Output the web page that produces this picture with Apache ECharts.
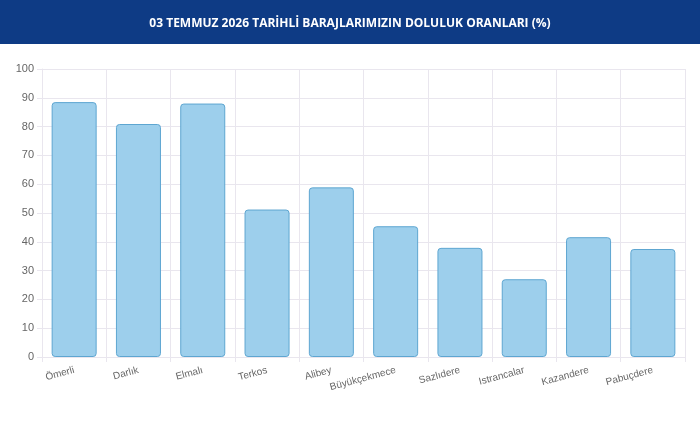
<!DOCTYPE html>
<html>
<head>
<meta charset="utf-8">
<script src="https://cdn.jsdelivr.net/npm/echarts@6/dist/echarts.min.js"></script>
<style>
  html, body { margin: 0; padding: 0; background: #fff; }
  #chart { width: 700px; height: 429px; }
</style>
</head>
<body>
<div id="chart"></div>
<script>
'use strict';
var titleText = '03 TEMMUZ 2026 TARİHLİ BARAJLARIMIZIN DOLULUK ORANLARI (%)';
var damNames = ['Ömerli', 'Darlık', 'Elmalı', 'Terkos', 'Alibey', 'Büyükçekmece', 'Sazlıdere', 'Istrancalar', 'Kazandere', 'Pabuçdere'];
var fillRates = [88.5, 80.9, 88.0, 51.2, 58.9, 45.4, 37.9, 27.0, 41.6, 37.5];
var yTicks = [0, 10, 20, 30, 40, 50, 60, 70, 80, 90, 100];

var myChart = echarts.init(document.getElementById('chart'));

var gridColor = '#e9e6ee';

var option = {
    animation: false,
    backgroundColor: '#fff',
    graphic: [{
        type: 'rect',
        left: 0, top: 0,
        shape: { width: 700, height: 44 },
        style: { fill: '#0e3b85' },
        z: 0
    }],
    title: {
        text: titleText,
        left: 'center',
        top: 13,
        textStyle: {
            color: '#fff',
            fontFamily: 'Open Sans',
            fontWeight: 'bold',
            fontSize: 12
        }
    },
    grid: { left: 42, right: 15, top: 69, bottom: 72 },
    xAxis: {
        type: 'category',
        data: damNames,
        axisLine: { lineStyle: { color: gridColor } },
        axisTick: { show: true, length: 5, lineStyle: { color: gridColor } },
        splitLine: { show: true, lineStyle: { color: gridColor } },
        axisLabel: {
            rotate: 15,
            margin: 13,
            color: '#666',
            fontFamily: 'Liberation Sans',
            fontSize: 10,
            interval: 0
        }
    },
    yAxis: {
        type: 'value',
        min: yTicks[0],
        max: yTicks[yTicks.length - 1],
        interval: 10,
        axisLine: { show: true, lineStyle: { color: gridColor } },
        axisTick: { show: true, length: 5, lineStyle: { color: gridColor } },
        splitLine: { lineStyle: { color: gridColor } },
        axisLabel: {
            color: '#666',
            fontFamily: 'Liberation Sans',
            fontSize: 11,
            margin: 8
        }
    },
    series: [{
        name: 'Doluluk',
        type: 'bar',
        data: fillRates,
        barCategoryGap: '30%',
        itemStyle: {
            color: '#9dcfec',
            borderColor: '#5ea6d1',
            borderWidth: 1,
            borderRadius: 3
        }
    }]
};

myChart.setOption(option);
</script>
</body>
</html>
